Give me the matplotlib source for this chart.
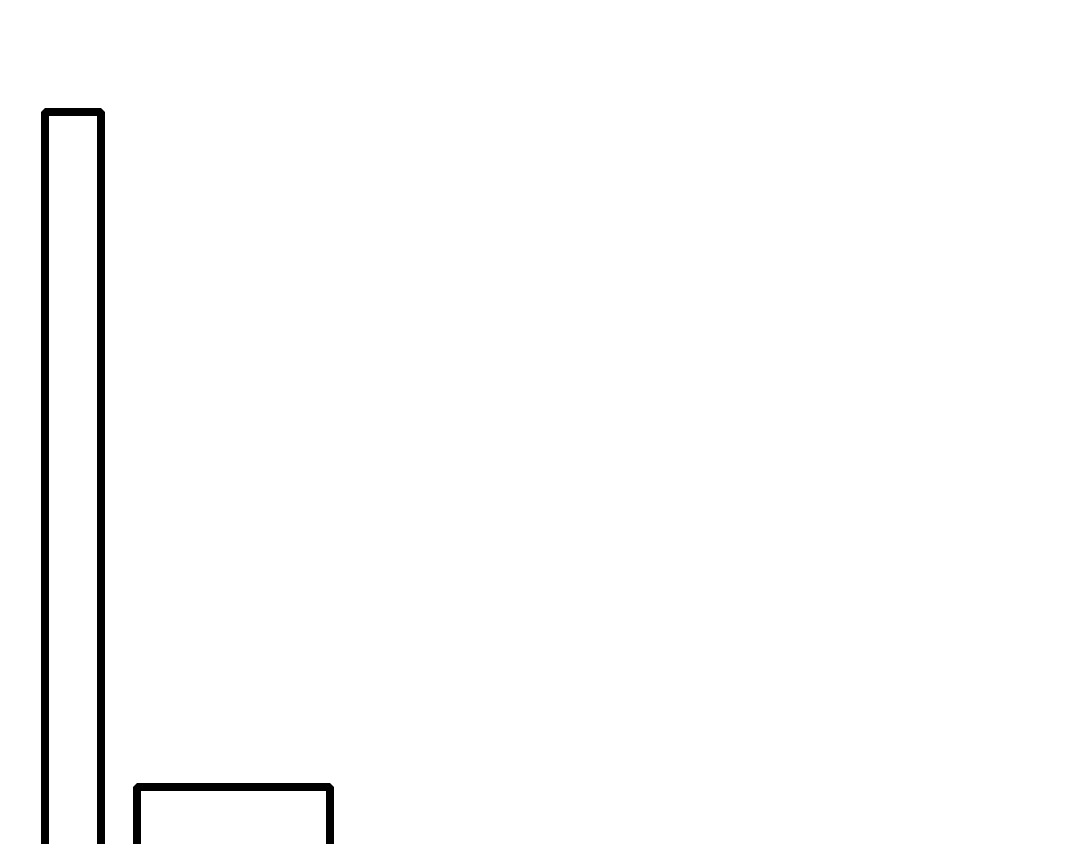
import matplotlib
matplotlib.use("Agg")
import matplotlib.pyplot as plt

# data
categories = ["A", "B"]
values = [7.315, 0.573]          # bar top heights (axis units)
bar_centers = [0.7275, 2.333]
bar_widths = [0.565, 1.933]
baseline = -1.0                  # bars start below the visible area

fig = plt.figure(figsize=(10.8, 8.44), dpi=100)
ax = fig.add_axes([0, 0, 1, 1])
ax.bar(bar_centers, [v - baseline for v in values], width=bar_widths,
       bottom=baseline, facecolor="white", edgecolor="black",
       linewidth=5.76, joinstyle="bevel")
ax.set_xlim(0, 10.8)
ax.set_ylim(0, 8.44)
ax.axis("off")
fig.savefig("out.png", dpi=100, facecolor="white")
